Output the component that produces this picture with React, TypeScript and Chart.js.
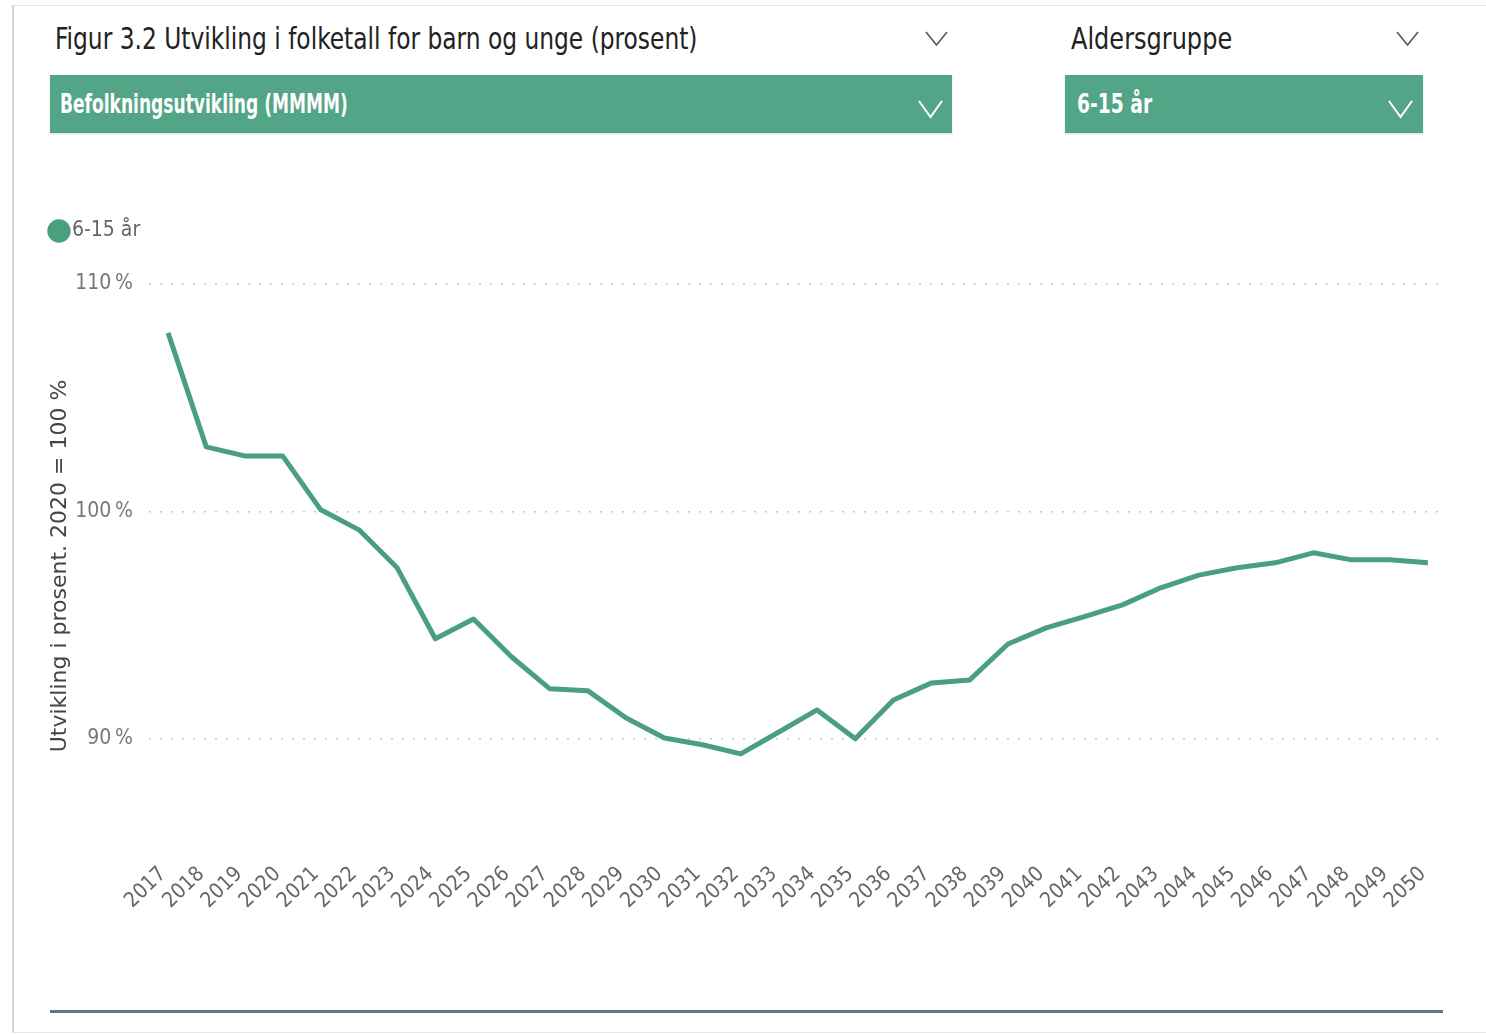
import React, { useEffect, useRef } from "react";
import { Chart, registerables } from "chart.js";

Chart.register(...registerables);

const years: string[] = [
  "2017", "2018", "2019", "2020", "2021", "2022", "2023", "2024", "2025", "2026",
  "2027", "2028", "2029", "2030", "2031", "2032", "2033", "2034", "2035", "2036",
  "2037", "2038", "2039", "2040", "2041", "2042", "2043", "2044", "2045", "2046",
  "2047", "2048", "2049", "2050",
];

const values615: number[] = [
  107.85, 102.84, 102.44, 102.44, 100.07, 99.19, 97.52, 94.4, 95.27, 93.6,
  92.2, 92.11, 90.92, 90.04, 89.74, 89.34, 90.3, 91.27, 90.0, 91.71,
  92.46, 92.59, 94.17, 94.88, 95.37, 95.89, 96.64, 97.2, 97.52, 97.74,
  98.18, 97.87, 97.87, 97.74,
];

const yTicks: number[] = [90, 100, 110];
const seriesLabel = "6-15 år";
const titleText = "Figur 3.2 Utvikling i folketall for barn og unge (prosent)";
const filterText = "Befolkningsutvikling (MMMM)";
const groupTitle = "Aldersgruppe";
const yTitle = "Utvikling i prosent. 2020 = 100 %";

const GREEN = "#52a586";
const LINE = "#4a9f7e";
const NARROW = '"DejaVu Sans Condensed", "Liberation Sans Narrow", sans-serif';

function Chevron({ x, y, color, w = 21, h = 13, sw = 1.6 }: { x: number; y: number; color: string; w?: number; h?: number; sw?: number }) {
  return (
    <svg style={{ position: "absolute", left: x, top: y }} width={w + 4} height={h + 4}>
      <polyline points={`2,2 ${w / 2 + 2},${h + 2} ${w + 2},2`} fill="none" stroke={color} strokeWidth={sw} />
    </svg>
  );
}

function Label({ x, y, text, size, color, weight, sx }: { x: number; y: number; text: string; size: number; color: string; weight: number; sx: number }) {
  return (
    <div
      style={{
        position: "absolute",
        left: x,
        top: y,
        fontFamily: NARROW,
        fontSize: size,
        fontWeight: weight,
        color,
        lineHeight: "36px",
        whiteSpace: "nowrap",
        transform: `scaleX(${sx})`,
        transformOrigin: "left center",
      }}
    >
      {text}
    </div>
  );
}

export default function App() {
  const ref = useRef<HTMLCanvasElement | null>(null);

  useEffect(() => {
    if (!ref.current) return;
    const legendHeight = {
      id: "legendHeight",
      beforeInit(chart: any) {
        const orig = chart.legend.fit;
        chart.legend.fit = function () {
          orig.call(this);
          this.height = 77;
        };
      },
    };
    const chart = new Chart(ref.current, {
      type: "line",
      data: {
        labels: years,
        datasets: [
          {
            label: seriesLabel,
            data: values615,
            borderColor: LINE,
            backgroundColor: LINE,
            borderWidth: 5,
            pointRadius: 0,
            tension: 0,
            borderJoinStyle: "round",
          },
        ],
      },
      options: {
        responsive: false,
        animation: false,
        layout: { padding: { left: 43, right: 39, top: 7, bottom: 0 } },
        plugins: {
          legend: {
            display: true,
            position: "top",
            align: "start",
            labels: {
              usePointStyle: true,
              pointStyle: "circle",
              boxWidth: 5,
              boxHeight: 13,
              padding: 13.5,
              color: "#666666",
              font: { family: NARROW, size: 21 },
            },
          },
          tooltip: { enabled: false },
        },
        scales: {
          x: {
            offset: true,
            grid: { display: false },
            border: { display: false },
            ticks: {
              autoSkip: false,
              minRotation: 44,
              maxRotation: 44,
              padding: 6,
              labelOffset: -5,
              color: "#666666",
              font: { family: NARROW, size: 21 },
            },
            afterFit(scale: any) {
              scale.height = 187;
            },
          },
          y: {
            min: 85.2,
            max: 110,
            afterBuildTicks(scale: any) {
              scale.ticks = yTicks.map((v) => ({ value: v }));
            },
            grid: { color: "#c8c8c8", lineWidth: 1.5, drawTicks: false },
            border: { display: false, dash: [2, 9] },
            ticks: {
              padding: 16,
              color: "#777777",
              font: { family: NARROW, size: 21 },
              callback: (v: any) => `${v}\u202F%`,
            },
            title: {
              display: true,
              text: yTitle,
              color: "#444444",
              font: { family: '"DejaVu Sans", sans-serif', size: 22 },
            },
            afterFit(scale: any) {
              scale.width = 106;
            },
          },
        },
      },
      plugins: [legendHeight],
    } as any);
    return () => chart.destroy();
  }, []);

  return (
    <div style={{ position: "absolute", left: 0, top: 0, width: 1486, height: 1035, background: "#ffffff", overflow: "hidden" }}>
      <div style={{ position: "absolute", left: 12, top: 5, width: 1480, height: 1026, borderLeft: "2px solid #d4d4d4", borderTop: "1px solid #e6e6e6", borderBottom: "1px solid #e6e6e6" }} />
      <Label x={55} y={21} text={titleText} size={30} color="#222222" weight={400} sx={0.865} />
      <Chevron x={924} y={30} color="#555555" />
      <Label x={1071} y={21} text={groupTitle} size={30} color="#222222" weight={400} sx={0.89} />
      <Chevron x={1395} y={30} color="#555555" />

      <div style={{ position: "absolute", left: 50, top: 75, width: 902, height: 58, background: GREEN, boxShadow: "0 1px 2px rgba(0,0,0,0.15)" }} />
      <Label x={60} y={86} text={filterText} size={26} color="#ffffff" weight={600} sx={0.73} />
      <Chevron x={917} y={99} color="#ffffff" w={23} h={16} sw={2} />

      <div style={{ position: "absolute", left: 1065, top: 75, width: 358, height: 58, background: GREEN, boxShadow: "0 1px 2px rgba(0,0,0,0.15)" }} />
      <Label x={1077} y={86} text={seriesLabel} size={26} color="#ffffff" weight={600} sx={0.8} />
      <Chevron x={1387} y={99} color="#ffffff" w={23} h={16} sw={2} />

      <div style={{ position: "absolute", left: 0, top: 200, width: 1486, height: 835 }}>
        <canvas ref={ref} width={1486} height={835} style={{ width: 1486, height: 835, display: "block" }} />
      </div>

      <div style={{ position: "absolute", left: 50, top: 1010, width: 1393, height: 3, background: "#557a88" }} />
    </div>
  );
}
